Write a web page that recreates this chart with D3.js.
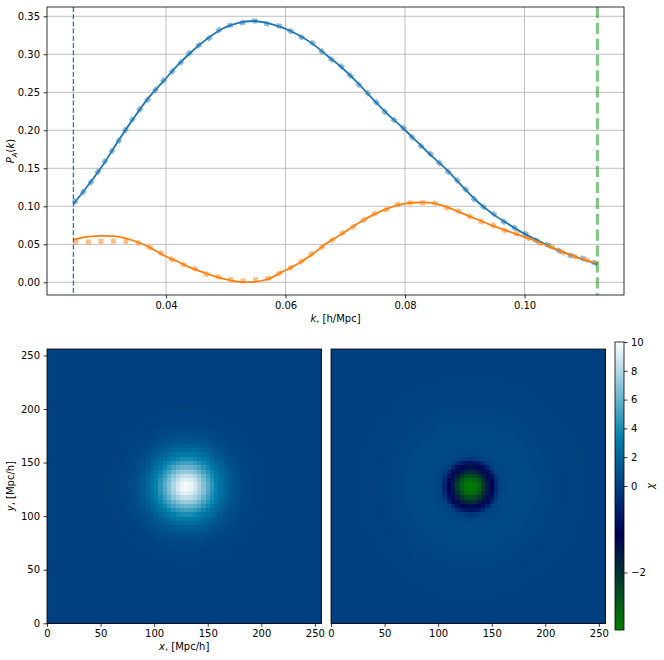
<!DOCTYPE html>
<html><head><meta charset="utf-8">
<script src="https://cdn.jsdelivr.net/npm/d3@7"></script>
<style>body{margin:0;background:#fff}svg{display:block}text{font-family:"DejaVu Sans",sans-serif;}</style>
</head><body>
<svg id="c" width="664" height="660"></svg>
<script>
// ---------- data ----------
const kGrid = [0.0245,0.0270,0.0295,0.0320,0.0345,0.0370,0.0395,0.0420,0.0445,0.0470,0.0495,0.0520,0.0545,0.0570,0.0595,0.0620,0.0645,0.0670,0.0695,0.0720,0.0745,0.0770,0.0795,0.0820,0.0845,0.0870,0.0895,0.0920,0.0945,0.0970,0.0995,0.1020,0.1045,0.1070,0.1095,0.1122];
const blueModel = [0.103,0.128,0.155,0.186,0.215,0.242,0.264,0.286,0.305,0.321,0.334,0.341,0.3438,0.341,0.335,0.326,0.314,0.298,0.282,0.263,0.242,0.222,0.204,0.185,0.166,0.148,0.127,0.107,0.091,0.078,0.066,0.056,0.046,0.038,0.031,0.024];
const orangeModel = [0.056,0.060,0.061,0.060,0.055,0.047,0.036,0.027,0.018,0.011,0.005,0.001,0.0005,0.004,0.014,0.024,0.037,0.052,0.064,0.077,0.088,0.097,0.103,0.105,0.1045,0.099,0.091,0.083,0.075,0.068,0.061,0.054,0.046,0.038,0.031,0.025];
const blueMeasured = [0.104,0.127,0.156,0.185,0.216,0.241,0.265,0.285,0.306,0.320,0.335,0.340,0.344,0.340,0.336,0.325,0.315,0.297,0.283,0.262,0.243,0.221,0.205,0.184,0.167,0.147,0.128,0.106,0.092,0.077,0.067,0.055,0.047,0.037,0.032,0.024];
const orangeMeasured = [0.053,0.053,0.054,0.054,0.053,0.047,0.037,0.026,0.019,0.010,0.006,0.002,0.003,0.005,0.014,0.024,0.038,0.051,0.065,0.076,0.089,0.096,0.104,0.104,0.105,0.098,0.092,0.082,0.076,0.067,0.062,0.053,0.047,0.037,0.032,0.024];
const kMin = 0.0245, kMax = 0.1122;
const xTicksTop = [0.04,0.06,0.08,0.10];
const yTicksTop = [0.00,0.05,0.10,0.15,0.20,0.25,0.30,0.35];

// radial profiles of the 64x64 maps (radius in Mpc/h -> chi)
const nCells = 64, boxSize = 256;
const blobCenter = [130,128];
const chiRadius = [0,4,8,12,16,20,24,28,32,36,40,45,50,55,60,65,70,80,400];
const chiValues = [10,9.6,8.9,7.9,6.8,5.6,4.5,3.5,2.7,2.0,1.45,0.95,0.6,0.38,0.22,0.12,0.06,0.02,0];
const filtRadius = [0,4,8,12,16,20,24,28,32,40,50,60,70,80,90,100,400];
const filtValues = [-3.33,-3.2,-2.8,-2.2,-1.6,-1.15,-0.5,0.15,0.42,0.58,0.58,0.48,0.34,0.2,0.1,0.04,0];
const imgTicks = [0,50,100,150,200,250];
const cbTicks = [-2,0,2,4,6,8,10];
const vMin = -3.33, vCenter = 0, vMax = 10;

// ---------- drawing ----------
const svg = d3.select("#c");
const FS = 10;
const fmt2 = d3.format(".2f");
const minus = s => String(s).replace("-", "\u2212");

// ===== top panel =====
const T = {l:47, r:624, t:7, b:295};
const x = d3.scaleLinear().domain([0.02008,0.11665]).range([T.l,T.r]);
const y = d3.scaleLinear().domain([-0.0167,0.3622]).range([T.b,T.t]);
const gTop = svg.append("g");
gTop.selectAll(".gx").data(xTicksTop).join("line")
  .attr("x1",d=>x(d)).attr("x2",d=>x(d)).attr("y1",T.t).attr("y2",T.b)
  .attr("stroke","#b0b0b0").attr("stroke-width",0.8);
gTop.selectAll(".gy").data(yTicksTop).join("line")
  .attr("y1",d=>y(d)).attr("y2",d=>y(d)).attr("x1",T.l).attr("x2",T.r)
  .attr("stroke","#b0b0b0").attr("stroke-width",0.8);

svg.append("defs").append("clipPath").attr("id","clipTop")
  .append("rect").attr("x",T.l).attr("y",T.t).attr("width",T.r-T.l).attr("height",T.b-T.t);
const plotG = gTop.append("g").attr("clip-path","url(#clipTop)");
const line = vals => d3.line().x((d,i)=>x(kGrid[i])).y(d=>y(d)).curve(d3.curveCatmullRom.alpha(0.5))(vals);

[[blueMeasured,"#1f77b4"],[orangeMeasured,"#ff7f0e"]].forEach(([v,c])=>{
  plotG.append("path").attr("d",line(v)).attr("fill","none").attr("stroke",c)
    .attr("stroke-width",5).attr("stroke-opacity",0.5).attr("stroke-dasharray","5,7.5");
});
[[blueModel,"#1f77b4"],[orangeModel,"#ff7f0e"]].forEach(([v,c])=>{
  plotG.append("path").attr("d",line(v)).attr("fill","none").attr("stroke",c)
    .attr("stroke-width",1.8).attr("stroke-linejoin","round");
});
plotG.append("line").attr("x1",x(kMin)).attr("x2",x(kMin)).attr("y1",T.t).attr("y2",T.b)
  .attr("stroke","#1f77b4").attr("stroke-width",1.3).attr("stroke-dasharray","5,2.2");
plotG.append("line").attr("x1",x(kMax)).attr("x2",x(kMax)).attr("y1",T.t).attr("y2",T.b)
  .attr("stroke","#2ca02c").attr("stroke-opacity",0.6).attr("stroke-width",3).attr("stroke-dasharray","11.1,4.8");

function styleAxis(g){
  g.select(".domain").remove();
  g.selectAll(".tick line").attr("stroke","#000").attr("stroke-width",0.8);
  g.selectAll(".tick text").attr("font-size",FS).attr("fill","#000").attr("font-family","DejaVu Sans");
}
gTop.append("g").attr("transform",`translate(0,${T.b})`)
  .call(d3.axisBottom(x).tickValues(xTicksTop).tickFormat(fmt2).tickSize(3.5).tickPadding(3.5)).call(styleAxis);
gTop.append("g").attr("transform",`translate(${T.l},0)`)
  .call(d3.axisLeft(y).tickValues(yTicksTop).tickFormat(fmt2).tickSize(3.5).tickPadding(3.5)).call(styleAxis);
gTop.append("rect").attr("x",T.l).attr("y",T.t).attr("width",T.r-T.l).attr("height",T.b-T.t)
  .attr("fill","none").attr("stroke","#000").attr("stroke-width",0.8);

const xl = svg.append("text").attr("x",(T.l+T.r)/2).attr("y",322).attr("text-anchor","middle").attr("font-size",FS);
xl.append("tspan").attr("font-style","italic").text("k");
xl.append("tspan").text(", [h/Mpc]");
const yl = svg.append("text").attr("transform",`translate(14,${(T.t+T.b)/2}) rotate(-90)`).attr("text-anchor","middle").attr("font-size",FS);
yl.append("tspan").attr("font-style","italic").text("P");
yl.append("tspan").attr("font-style","italic").attr("font-size",7).attr("dy",2.5).text("A");
yl.append("tspan").attr("dy",-2.5).text("(");
yl.append("tspan").attr("font-style","italic").text("k");
yl.append("tspan").text(")");

// ===== maps =====
const ocean = f => {
  f = Math.max(0, Math.min(1, f));
  const r = Math.max(0, Math.min(1, 3*f-2));
  const g = Math.min(1, Math.abs((3*f-1)/2));
  const b = f;
  return d3.rgb(r*255, g*255, b*255).toString();
};
const norm = d3.scaleLinear().domain([vMin,vCenter,vMax]).range([0,0.5,1]).clamp(true);
const colorOf = v => ocean(norm(v));

const IMG_T = 349, IMG_B = 623.3;
const panels = [
  {l:47, r:321.3, rad:chiRadius, val:chiValues, ylab:true},
  {l:331, r:605.3, rad:filtRadius, val:filtValues, ylab:false}
];
const cells = [];
for (let i=0;i<nCells;i++) for (let j=0;j<nCells;j++) cells.push({i,j});
const cellSize = boxSize/nCells;
panels.forEach(p=>{
  const xs = d3.scaleLinear().domain([0,boxSize]).range([p.l,p.r]);
  const ys = d3.scaleLinear().domain([0,boxSize]).range([IMG_B,IMG_T]);
  const prof = d3.scaleLinear().domain(p.rad).range(p.val);
  const g = svg.append("g");
  g.selectAll("rect.cell").data(cells).join("rect")
    .attr("x",d=>xs(d.i*cellSize)).attr("y",d=>ys((d.j+1)*cellSize))
    .attr("width",xs(cellSize)-xs(0)+0.5).attr("height",ys(0)-ys(cellSize)+0.5)
    .attr("shape-rendering","crispEdges")
    .attr("fill",d=>{
      const cx=(d.i+0.5)*cellSize, cy=(d.j+0.5)*cellSize;
      const r=Math.hypot(cx-blobCenter[0], cy-blobCenter[1]);
      return colorOf(prof(r));
    });
  g.append("g").attr("transform",`translate(0,${IMG_B})`)
    .call(d3.axisBottom(xs).tickValues(imgTicks).tickSize(3.5).tickPadding(3.5)).call(styleAxis);
  if (p.ylab) {
    g.append("g").attr("transform",`translate(${p.l},0)`)
      .call(d3.axisLeft(ys).tickValues(imgTicks).tickSize(3.5).tickPadding(3.5)).call(styleAxis);
  }
  g.append("rect").attr("x",p.l).attr("y",IMG_T).attr("width",p.r-p.l).attr("height",IMG_B-IMG_T)
    .attr("fill","none").attr("stroke","#000").attr("stroke-width",0.8);
});
const xl2 = svg.append("text").attr("x",(47+321.3)/2).attr("y",650).attr("text-anchor","middle").attr("font-size",FS);
xl2.append("tspan").attr("font-style","italic").text("x");
xl2.append("tspan").text(", [Mpc/h]");
const yl2 = svg.append("text").attr("transform",`translate(14,${(IMG_T+IMG_B)/2}) rotate(-90)`).attr("text-anchor","middle").attr("font-size",FS);
yl2.append("tspan").attr("font-style","italic").text("y");
yl2.append("tspan").text(", [Mpc/h]");

// ===== colorbar =====
const CB = {l:615, r:624, t:342, b:630};
const cbScale = d3.scaleLinear().domain([vMin,vCenter,vMax]).range([CB.b,(CB.t+CB.b)/2,CB.t]);
const cbRows = d3.range(CB.t, CB.b, 1);
svg.append("g").selectAll("rect").data(cbRows).join("rect")
  .attr("x",CB.l).attr("y",d=>d).attr("width",CB.r-CB.l).attr("height",1.2)
  .attr("shape-rendering","crispEdges")
  .attr("fill",d=>colorOf(cbScale.invert(d+0.5)));
svg.append("g").attr("transform",`translate(${CB.r},0)`)
  .call(d3.axisRight(cbScale).tickValues(cbTicks).tickFormat(d=>minus(d)).tickSize(3.5).tickPadding(3.5)).call(styleAxis);
svg.append("rect").attr("x",CB.l).attr("y",CB.t).attr("width",CB.r-CB.l).attr("height",CB.b-CB.t)
  .attr("fill","none").attr("stroke","#000").attr("stroke-width",0.8);
svg.append("text").attr("transform",`translate(654,${(CB.t+CB.b)/2}) rotate(-90)`)
  .attr("text-anchor","middle").attr("font-size",FS).attr("font-style","italic").text("\u03c7");
</script>
</body></html>
